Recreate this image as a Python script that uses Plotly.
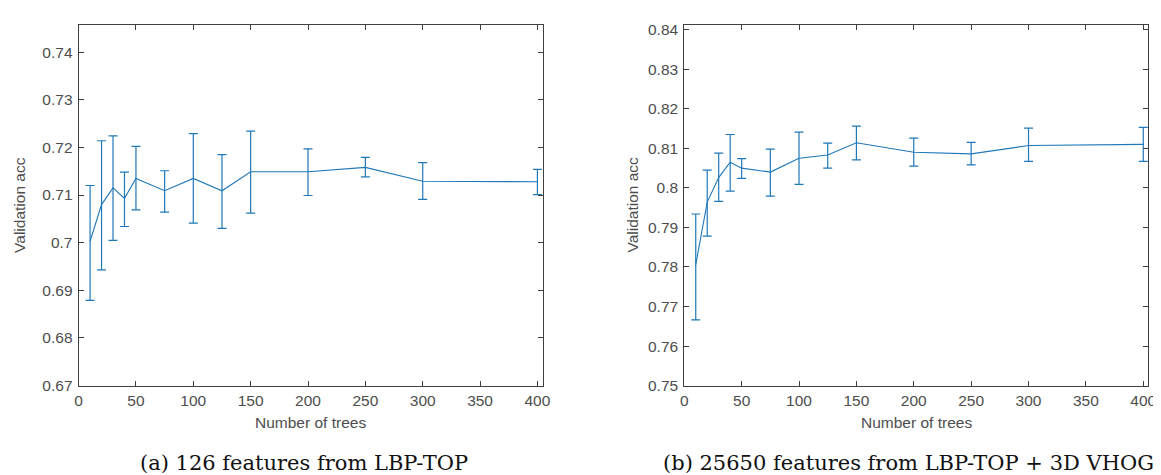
import plotly.graph_objects as go

# ---- data ----
trees = [10, 20, 30, 40, 50, 75, 100, 125, 150, 200, 250, 300, 400]

lbp_mean  = [0.7003, 0.7080, 0.7115, 0.7093, 0.7135, 0.7109, 0.7135, 0.7109, 0.7149, 0.7149, 0.7158, 0.7129, 0.7128]
lbp_upper = [0.7120, 0.7214, 0.7224, 0.7148, 0.7202, 0.7151, 0.7229, 0.7185, 0.7234, 0.7197, 0.7179, 0.7168, 0.7154]
lbp_lower = [0.6879, 0.6943, 0.7005, 0.7034, 0.7069, 0.7064, 0.7041, 0.7030, 0.7062, 0.7099, 0.7138, 0.7091, 0.7101]

vhog_mean  = [0.7806, 0.7964, 0.8026, 0.8065, 0.8050, 0.8040, 0.8075, 0.8083, 0.8114, 0.8090, 0.8086, 0.8107, 0.8110]
vhog_upper = [0.7934, 0.8045, 0.8088, 0.8135, 0.8074, 0.8098, 0.8141, 0.8113, 0.8156, 0.8126, 0.8115, 0.8151, 0.8153]
vhog_lower = [0.7666, 0.7878, 0.7966, 0.7992, 0.8024, 0.7979, 0.8009, 0.8050, 0.8071, 0.8055, 0.8058, 0.8067, 0.8067]

x_ticks = [0, 50, 100, 150, 200, 250, 300, 350, 400]
left_yticks = [0.67, 0.68, 0.69, 0.70, 0.71, 0.72, 0.73, 0.74]
left_ylabels = ["0.67", "0.68", "0.69", "0.7", "0.71", "0.72", "0.73", "0.74"]
right_yticks = [0.75, 0.76, 0.77, 0.78, 0.79, 0.80, 0.81, 0.82, 0.83, 0.84]
right_ylabels = ["0.75", "0.76", "0.77", "0.78", "0.79", "0.8", "0.81", "0.82", "0.83", "0.84"]

x_title = "Number of trees"
y_title = "Validation acc"
caption_a = "(a) 126 features from LBP-TOP"
caption_b = "(b) 25650 features from LBP-TOP + 3D VHOG"

W, H = 1161, 475
COLOR = "#1f78b8"
AXC = "#404040"
TICKFONT = dict(family="Liberation Sans, Arial, sans-serif", size=15.5, color="#4d4d4d")


def err_trace(mean, upper, lower, xa, ya):
    return go.Scatter(
        x=trees, y=mean, mode="lines", xaxis=xa, yaxis=ya,
        line=dict(color=COLOR, width=1.1),
        error_y=dict(type="data", symmetric=False,
                     array=[u - m for u, m in zip(upper, mean)],
                     arrayminus=[m - l for m, l in zip(mean, lower)],
                     color=COLOR, thickness=1.2, width=4.5),
        showlegend=False, hoverinfo="x+y",
    )


fig = go.Figure()
fig.add_trace(err_trace(lbp_mean, lbp_upper, lbp_lower, "x", "y"))
fig.add_trace(err_trace(vhog_mean, vhog_upper, vhog_lower, "x2", "y2"))

ydom = [1 - 383.3 / H, 1 - 13.3 / H]
xdom1 = [67.3 / W, 536.7 / W]
xdom2 = [679.3 / W, 1148.3 / W]

axis_common = dict(showgrid=False, zeroline=False, showline=True, linecolor=AXC, linewidth=1,
                   mirror="ticks", ticks="inside", ticklen=5, tickcolor=AXC, tickwidth=1,
                   tickfont=TICKFONT)

fig.update_layout(
    width=W, height=H, margin=dict(l=0, r=0, t=0, b=0),
    paper_bgcolor="white", plot_bgcolor="white",
    xaxis=dict(domain=xdom1, range=[0, 405], tickvals=x_ticks, anchor="y", ticklabelstandoff=1, **axis_common),
    yaxis=dict(domain=ydom, range=[0.67, 0.7457], tickvals=left_yticks, ticktext=left_ylabels,
               anchor="x", ticklabelstandoff=2, **axis_common),
    xaxis2=dict(domain=xdom2, range=[0, 404.5], tickvals=x_ticks, anchor="y2", ticklabelstandoff=1, **axis_common),
    yaxis2=dict(domain=ydom, range=[0.75, 0.8412], tickvals=right_yticks, ticktext=right_ylabels,
                anchor="x2", ticklabelstandoff=2, **axis_common),
)

title_font = dict(family="Liberation Sans, Arial, sans-serif", size=15.5, color="#4d4d4d")
cap_font = dict(family="DejaVu Serif, serif", size=21, color="#111111")

ann = [
    dict(x=302 / W, y=1 - 421 / H, text=x_title, font=title_font),
    dict(x=914 / W, y=1 - 421 / H, text=x_title, font=title_font),
    dict(x=8 / W, y=1 - 198 / H, text=y_title, font=title_font, textangle=-90),
    dict(x=627 / W, y=1 - 198 / H, text=y_title, font=title_font, textangle=-90),
    dict(x=295 / W, y=1 - 463 / H, text=caption_a, font=cap_font),
    dict(x=906 / W, y=1 - 463 / H, text=caption_b, font=cap_font),
]
for a in ann:
    fig.add_annotation(xref="paper", yref="paper", showarrow=False,
                       xanchor="center", yanchor="middle", **a)

fig.write_html("out.html")
